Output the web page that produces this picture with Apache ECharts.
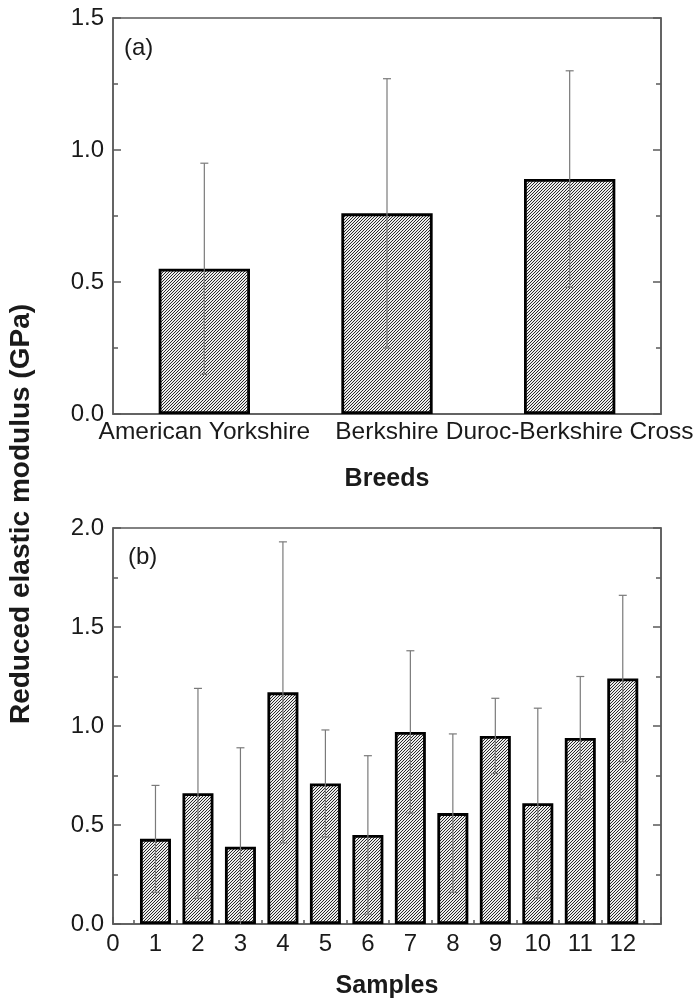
<!DOCTYPE html>
<html>
<head>
<meta charset="utf-8">
<script src="https://cdn.jsdelivr.net/npm/echarts@6/dist/echarts.min.js"></script>
<style>
  html, body { margin: 0; padding: 0; background: #fff; }
  #chart { width: 697px; height: 1002px; }
</style>
</head>
<body>
<div id="chart"></div>
<script>
// Panel (a): reduced elastic modulus by breed
const breeds = ['American Yorkshire', 'Berkshire', 'Duroc-Berkshire Cross'];
const breedMeans = [0.55, 0.76, 0.89];
const breedErrors = [0.40, 0.51, 0.41];

// Panel (b): reduced elastic modulus by sample
const samples = [1, 2, 3, 4, 5, 6, 7, 8, 9, 10, 11, 12];
const sampleMeans = [0.43, 0.66, 0.39, 1.17, 0.71, 0.45, 0.97, 0.56, 0.95, 0.61, 0.94, 1.24];
const sampleErrors = [0.27, 0.53, 0.50, 0.76, 0.27, 0.40, 0.41, 0.40, 0.19, 0.48, 0.31, 0.42];

// Axis tick values
const breedTicks = [0, 0.5, 1.0, 1.5];
const sampleTicks = [0, 0.5, 1.0, 1.5, 2.0];

const FONT = "'Liberation Sans', Arial, sans-serif";
const AXIS_COLOR = '#5a5a5a';
const TEXT_COLOR = '#1a1a1a';

// Dense diagonal hatch fill for the bars
function makeHatch() {
  const s = 3;
  const c = document.createElement('canvas');
  c.width = s; c.height = s;
  const ctx = c.getContext('2d');
  ctx.fillStyle = '#ececec';
  ctx.fillRect(0, 0, s, s);
  ctx.strokeStyle = '#2a2a2a';
  ctx.lineWidth = 1;
  ctx.beginPath();
  for (let k = -1; k <= 1; k++) {
    ctx.moveTo(-1 + k * s, s + 1);
    ctx.lineTo(s + 1 + k * s, -1);
  }
  ctx.stroke();
  return c;
}
const hatch = makeHatch();

const barStyle = {
  color: { image: hatch, repeat: 'repeat' },
  borderColor: '#000',
  borderWidth: 2.8
};

function errorBars(params, api) {
  const x = api.value(0), m = api.value(1), e = api.value(2);
  const top = api.coord([x, m + e]);
  const lowVal = Math.max(0, m - e);
  const bot = api.coord([x, lowVal]);
  const cap = 4;
  const style = { stroke: '#7a7a7a', lineWidth: 1.2 };
  const children = [
    { type: 'line', shape: { x1: top[0], y1: top[1], x2: bot[0], y2: bot[1] }, style },
    { type: 'line', shape: { x1: top[0] - cap, y1: top[1], x2: top[0] + cap, y2: top[1] }, style }
  ];
  if (lowVal > 0) {
    children.push({ type: 'line', shape: { x1: bot[0] - cap, y1: bot[1], x2: bot[0] + cap, y2: bot[1] }, style });
  }
  return { type: 'group', children };
}

function valueAxis(gridIndex, ticks, position, showLabel) {
  return {
    type: 'value', gridIndex, position,
    min: ticks[0], max: ticks[ticks.length - 1], interval: ticks[1] - ticks[0],
    axisLine: { show: true, onZero: false, lineStyle: { color: AXIS_COLOR, width: 1.5 } },
    axisTick: { show: true, inside: true, length: 8, lineStyle: { color: AXIS_COLOR, width: 1.5 } },
    minorTick: { show: true, splitNumber: 2, length: 5, lineStyle: { color: AXIS_COLOR, width: 1.5 } },
    splitLine: { show: false },
    axisLabel: {
      show: showLabel, fontFamily: FONT, fontSize: 24, color: TEXT_COLOR, margin: 9,
      formatter: v => v.toFixed(1)
    }
  };
}

const chart = echarts.init(document.getElementById('chart'), null, { renderer: 'canvas' });

chart.setOption({
  backgroundColor: '#fff',
  animation: false,
  grid: [
    { left: 113, top: 18, width: 548, height: 396, show: true, borderColor: AXIS_COLOR, borderWidth: 1.5 },
    { left: 113, top: 528, width: 548, height: 396, show: true, borderColor: AXIS_COLOR, borderWidth: 1.5 }
  ],
  xAxis: [
    {
      type: 'category', gridIndex: 0, data: breeds,
      axisLine: { lineStyle: { color: AXIS_COLOR, width: 1.5 } },
      axisTick: { inside: true, length: 5, lineStyle: { color: AXIS_COLOR, width: 1.5 } },
      axisLabel: { interval: 0, fontFamily: FONT, fontSize: 24.5, color: TEXT_COLOR, margin: 6 },
      name: 'Breeds', nameLocation: 'middle', nameGap: 53,
      nameTextStyle: { fontFamily: FONT, fontSize: 25, fontWeight: 'bold', color: TEXT_COLOR }
    },
    {
      type: 'value', gridIndex: 1, min: 0, max: 12.9, interval: 1,
      axisLine: { onZero: false, lineStyle: { color: AXIS_COLOR, width: 1.5 } },
      axisTick: { inside: true, length: 7, lineStyle: { color: AXIS_COLOR, width: 1.5 } },
      minorTick: { show: true, splitNumber: 2, length: 4, lineStyle: { color: AXIS_COLOR, width: 1.5 } },
      splitLine: { show: false },
      axisLabel: { showMaxLabel: false, fontFamily: FONT, fontSize: 24, color: TEXT_COLOR, margin: 8 },
      name: 'Samples', nameLocation: 'middle', nameGap: 50,
      nameTextStyle: { fontFamily: FONT, fontSize: 25, fontWeight: 'bold', color: TEXT_COLOR }
    }
  ],
  yAxis: [
    valueAxis(0, breedTicks, 'left', true),
    valueAxis(0, breedTicks, 'right', false),
    valueAxis(1, sampleTicks, 'left', true),
    valueAxis(1, sampleTicks, 'right', false)
  ],
  graphic: [
    {
      type: 'text', x: 21, y: 514, rotation: Math.PI / 2,
      style: {
        text: 'Reduced elastic modulus (GPa)', font: 'bold 28px ' + FONT,
        fill: TEXT_COLOR, textAlign: 'center', textVerticalAlign: 'middle'
      }
    },
    { type: 'text', x: 124, y: 36, style: { text: '(a)', font: '24px ' + FONT, fill: TEXT_COLOR } },
    { type: 'text', x: 128, y: 545, style: { text: '(b)', font: '24px ' + FONT, fill: TEXT_COLOR } }
  ],
  series: [
    {
      type: 'bar', xAxisIndex: 0, yAxisIndex: 0, barWidth: '50%',
      data: breedMeans, itemStyle: barStyle, z: 2
    },
    {
      type: 'custom', xAxisIndex: 0, yAxisIndex: 0, z: 3,
      renderItem: errorBars, encode: { x: 0, y: 1 },
      data: breedMeans.map((m, i) => [i, m, breedErrors[i]])
    },
    {
      type: 'bar', xAxisIndex: 1, yAxisIndex: 2, barWidth: 31,
      data: samples.map((s, i) => [s, sampleMeans[i]]), itemStyle: barStyle, z: 2
    },
    {
      type: 'custom', xAxisIndex: 1, yAxisIndex: 2, z: 3,
      renderItem: errorBars, encode: { x: 0, y: 1 },
      data: samples.map((s, i) => [s, sampleMeans[i], sampleErrors[i]])
    }
  ]
});
</script>
</body>
</html>
